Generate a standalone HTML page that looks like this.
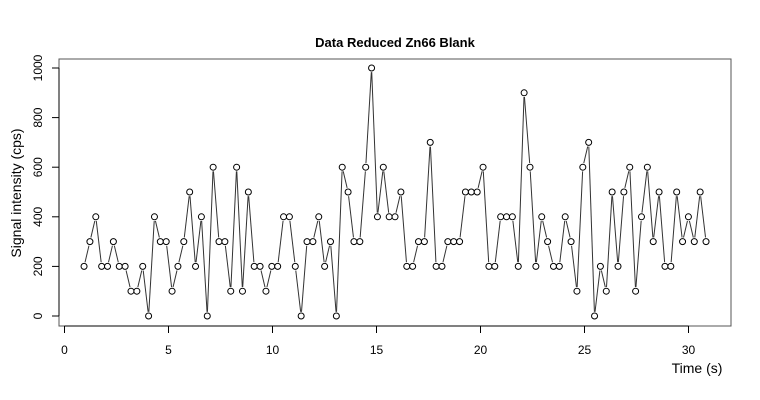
<!DOCTYPE html>
<html><head><meta charset="utf-8"><style>
html,body{margin:0;padding:0;background:#fff;}
svg{display:block;font-family:"Liberation Sans",Arial,sans-serif;}
</style></head><body>
<svg id="chart" width="760" height="400" viewBox="0 0 760 400">
<text x="395" y="47" text-anchor="middle" font-size="13" font-weight="bold">Data Reduced Zn66 Blank</text>
<rect x="59" y="59" width="672" height="267" fill="none" stroke="#555" stroke-width="1"/>
<text x="697" y="373" text-anchor="middle" font-size="14">Time (s)</text>
<text transform="translate(21,193) rotate(-90)" text-anchor="middle" font-size="14">Signal intensity (cps)</text>
<g id="axes"></g>
<g id="series"></g>
</svg>
<script>
const startTime = 0.94;
const timeStep = 0.2821;
const values = [200,300,400,200,200,300,200,200,100,100,200,0,400,300,300,100,200,300,500,200,400,0,600,300,300,100,600,100,500,200,200,100,200,200,400,400,200,0,300,300,400,200,300,0,600,500,300,300,600,1000,400,600,400,400,500,200,200,300,300,700,200,200,300,300,300,500,500,500,600,200,200,400,400,400,200,900,600,200,400,300,200,200,400,300,100,600,700,0,200,100,500,200,500,600,100,400,600,300,500,200,200,500,300,400,300,500,300];
const xTicks = [0,5,10,15,20,25,30];
const yTicks = [0,200,400,600,800,1000];

const NS = "http://www.w3.org/2000/svg";
function xs(t){ return 64.5 + t*20.8; }
function ys(v){ return 316 - v*0.248; }
function mk(tag, attrs, parent){ const e=document.createElementNS(NS,tag); for(const k in attrs) e.setAttribute(k,attrs[k]); parent.appendChild(e); return e; }
const axes=document.getElementById('axes');
const series=document.getElementById('series');
mk('line',{x1:xs(0),x2:xs(30),y1:326,y2:326,stroke:'#000'},axes);
xTicks.forEach(t=>{
  const l=mk('line',{x1:xs(t),x2:xs(t),y1:326,y2:333,stroke:'#000'},axes);
  
  
  const tx=mk('text',{x:xs(t),y:354,'text-anchor':'middle','font-size':12},axes);
  tx.textContent=t;
  
  
});
mk('line',{x1:59,x2:59,y1:ys(0),y2:ys(1000),stroke:'#000'},axes);
yTicks.forEach(v=>{
  const l=mk('line',{x1:52,x2:59,y1:ys(v),y2:ys(v),stroke:'#000'},axes);
  
  
  const tx=mk('text',{transform:`translate(42,${ys(v)}) rotate(-90)`,'text-anchor':'middle','font-size':12},axes);
  tx.textContent=v;
  
  
});
const pts=values.map((v,i)=>[xs(startTime+i*timeStep),ys(v)]);
const gap=4.2;
for(let i=0;i<pts.length-1;i++){
  const [x1,y1]=pts[i],[x2,y2]=pts[i+1];
  const dx=x2-x1,dy=y2-y1,d=Math.hypot(dx,dy);
  if(d<=2*gap) continue;
  const ux=dx/d,uy=dy/d;
  const l=mk('line',{x1:x1+ux*gap,y1:y1+uy*gap,x2:x2-ux*gap,y2:y2-uy*gap,stroke:'#333','stroke-width':1},series);
  
  
}
pts.forEach(p=>{
  const c=mk('circle',{cx:p[0],cy:p[1],r:3,fill:'#fff',stroke:'#000','stroke-width':1},series);
  
  
});
</script>
</body></html>
